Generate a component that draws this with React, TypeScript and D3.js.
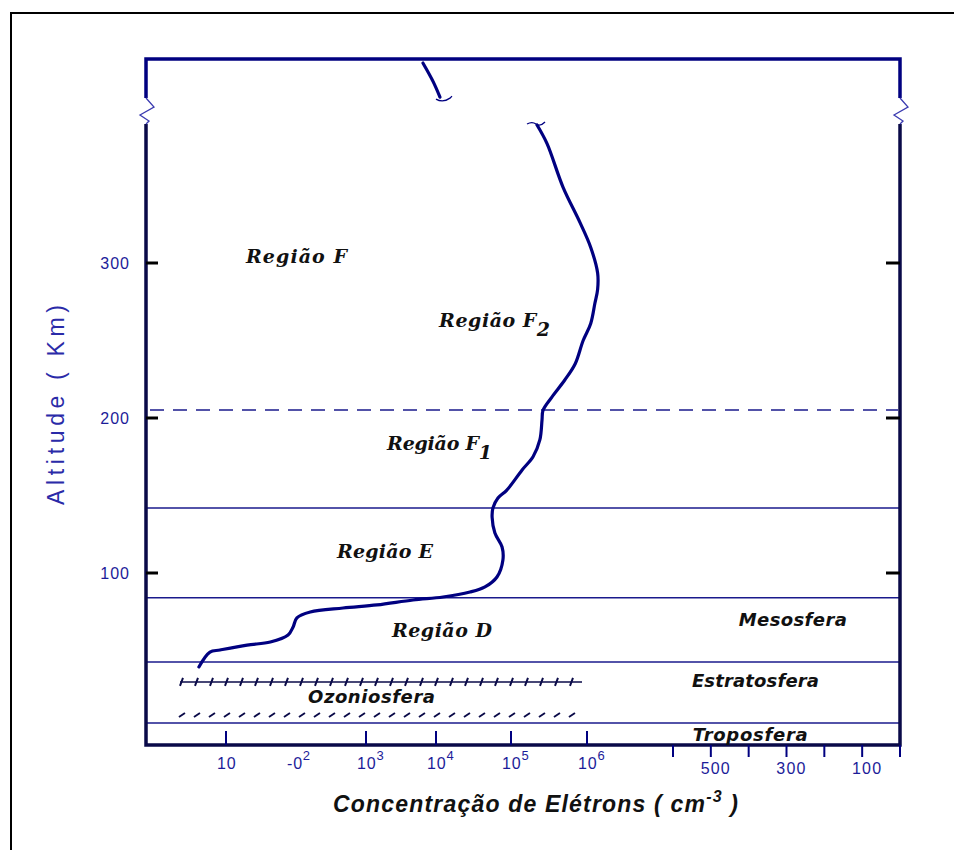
import React from "react"
import * as d3 from "d3"

// electron density profile: concentration (cm^-3) vs altitude (km)
const lowerConc = [4.1, 5.9, 8.2, 20, 43, 77, 91, 103, 160, 470, 1440, 4700, 1.24e4, 2.84e4, 4.5e4, 6.5e4, 7.8e4, 7.6e4, 6.1e4, 5.6e4, 5.75e4, 6.7e4, 8.8e4, 1.4e5, 1.95e5, 2.4e5, 2.56e5, 2.64e5, 3.45e5, 5.1e5, 7.0e5, 8.9e5, 1.12e6, 1.27e6, 1.38e6, 1.38e6, 1.12e6, 8.1e5, 4.83e5, 2.98e5, 2.2e5]
const lowerAlt = [39.4, 49, 50.3, 53.5, 55.5, 60, 65.2, 71, 74.8, 77.4, 79.4, 82.6, 84.5, 87.7, 91, 97.4, 108.4, 116.8, 125.8, 136, 142, 148.4, 153.5, 166.5, 175, 186, 198.7, 205, 213.5, 224.5, 235, 250, 261, 274, 283, 293.5, 310, 326, 349, 377, 389]
// piece above the axis break
const upperConc = [6.5e3, 9.1e3, 1.13e4]
const upperAlt = [429, 417, 407]

// layer boundaries (km)
const solidBounds = [142, 84, 42.6, 3.2]
const dashedBound = 205.2
const ozoneTop = 29.7
const ozoneBottom = 8.4
const ozoneRange = [2.2, 8.6e5]

// axes
const altTicks = [100, 200, 300]
const decadeTicks = [10, 1e3, 1e4, 1e5, 1e6]
const decadeLabelValues = [10, 100, 1e3, 1e4, 1e5, 1e6]
const decadeBases = ["10", "-0", "10", "10", "10", "10"]
const decadeExps = ["", "2", "3", "4", "5", "6"]
const tempTicks = [600, 500, 400, 300, 200, 100, 0]
const tempLabels = [500, 300, 100]

// annotations: [concentration, altitude]
const regionNames = ["Região F", "Região F", "Região F", "Região E", "Região D"]
const regionSubs = ["", "2", "1", "", ""]
const regionConc = [19.3, 1.1e4, 2000, 385, 2350]
const regionAlt = [300, 258.7, 179.4, 109.7, 58.7]
const regionWidths = [101, 111, 105, 96, 100]

// layer names on the right: [temperature-scale position, altitude]
const layerNames = ["Mesosfera", "Estratosfera", "Troposfera"]
const layerTemp = [426, 550, 548]
const layerAlt = [65.8, 26.5, -8.4]
const layerWidths = [108, 127, 115]

const NAVY = "#000080"
const DARK = "#0a0a48"
const LABEL_BLUE = "#1c1c99"

export default function App() {
  const left = 146, right = 900, top = 59, bottom = 745
  const breakTop = 98, breakBottom = 124

  const x = d3.scaleLog().domain([10, 1e3, 1e4, 1e5, 1e6]).range([226, 366, 436, 511, 587])
  const y = d3.scaleLinear().domain([0, 300]).range([728, 263])
  const xT = d3.scaleLinear().domain([0, 600]).range([900, 673])

  const line = d3.line<number>()
    .x(i => x(lowerConc[i]))
    .y(i => y(lowerAlt[i]))
    .curve(d3.curveCatmullRom.alpha(0.5))
  const lineUp = d3.line<number>()
    .x(i => x(upperConc[i]))
    .y(i => y(upperAlt[i]))
    .curve(d3.curveCatmullRom.alpha(0.5))

  const zig = (cx: number) =>
    `M${cx},${breakTop} L${cx + 8},${breakTop + 9} L${cx - 6},${breakTop + 17} L${cx + 3},${breakTop + 23} L${cx},${breakBottom}`

  const hx0 = x(ozoneRange[0]), hx1 = x(ozoneRange[1])
  const hatch = d3.range(hx0 + 2, hx1, 15)
  const yOzTop = y(ozoneTop), yOzBot = y(ozoneBottom)

  const upEnd = [x(upperConc[2]), y(upperAlt[2])]
  const lowTop = [x(lowerConc[lowerConc.length - 1]), y(lowerAlt[lowerAlt.length - 1])]

  const serif = "'DejaVu Serif', serif"
  const sans = "'Liberation Sans', Arial, sans-serif"
  const wide = "'DejaVu Sans', sans-serif"

  return (
    <svg width={954} height={850} style={{ position: "absolute", left: 0, top: 0, background: "#fff" }}>
      {/* outer frame */}
      <path d="M11,850 V13 H954" fill="none" stroke="#000" strokeWidth={2} />

      {/* layer boundaries */}
      {solidBounds.map((b, i) => (
        <line key={i} x1={left} x2={right} y1={y(b)} y2={y(b)} stroke="#1a1a8c" strokeWidth={1.5} />
      ))}
      <line x1={left + 4} x2={right - 2} y1={y(dashedBound)} y2={y(dashedBound)} stroke="#1a1a8c" strokeWidth={1.5} strokeDasharray="14 9" />

      {/* ozone layer hatching */}
      <line x1={hx0} x2={hx1} y1={yOzTop} y2={yOzTop} stroke={DARK} strokeWidth={1.5} />
      {hatch.map((h, i) => (
        <line key={"a" + i} x1={h - 2} y1={yOzTop + 4} x2={h + 1} y2={yOzTop - 4} stroke={DARK} strokeWidth={2} />
      ))}
      {hatch.map((h, i) => (
        <line key={"b" + i} x1={h - 3} y1={yOzBot + 2} x2={h + 3} y2={yOzBot - 2} stroke={DARK} strokeWidth={2} />
      ))}

      {/* plot frame with axis breaks */}
      <path d={`M${left},${breakTop} V${top} H${right} V${breakTop}`} fill="none" stroke={NAVY} strokeWidth={3.5} />
      <path d={`M${left},${breakBottom} V${bottom} H${right} V${breakBottom}`} fill="none" stroke={DARK} strokeWidth={3.5} />
      <path d={zig(left)} fill="none" stroke="#3a3ab0" strokeWidth={1.3} />
      <path d={zig(right)} fill="none" stroke="#3a3ab0" strokeWidth={1.3} />

      {/* altitude ticks */}
      {altTicks.map(t => (
        <g key={t}>
          <line x1={left} x2={left + 12} y1={y(t)} y2={y(t)} stroke="#000" strokeWidth={3} />
          <line x1={right - 14} x2={right} y1={y(t)} y2={y(t)} stroke="#000" strokeWidth={3} />
          <text x={130} y={y(t) + 6} textAnchor="end" fontFamily={sans} fontSize={16} letterSpacing={1} fill={LABEL_BLUE}>{t}</text>
        </g>
      ))}

      {/* concentration ticks */}
      {decadeTicks.map(t => (
        <line key={t} x1={x(t)} x2={x(t)} y1={bottom} y2={bottom - 14} stroke={NAVY} strokeWidth={2} />
      ))}
      {decadeLabelValues.map((v, i) => (
        <text key={v} x={x(v) - 9} y={769} fontFamily={sans} fontSize={16} letterSpacing={0.8} fill={LABEL_BLUE}>
          {decadeBases[i]}
          {decadeExps[i] && <tspan dy={-9} fontSize={13}>{decadeExps[i]}</tspan>}
        </text>
      ))}

      {/* temperature-like scale on the right */}
      {tempTicks.map(t => (
        <line key={t} x1={xT(t)} x2={xT(t)} y1={bottom} y2={bottom + 12} stroke={NAVY} strokeWidth={2} />
      ))}
      {tempLabels.map(t => (
        <text key={t} x={xT(t) + 5} y={774} textAnchor="middle" fontFamily={sans} fontSize={16} letterSpacing={1.2} fill={LABEL_BLUE}>{t}</text>
      ))}

      {/* electron density curve */}
      <path d={line(d3.range(lowerConc.length)) ?? ""} fill="none" stroke={NAVY} strokeWidth={3.2} strokeLinejoin="round" strokeLinecap="round" />
      <path d={lineUp(d3.range(upperConc.length)) ?? ""} fill="none" stroke={NAVY} strokeWidth={3.2} strokeLinecap="round" />
      <path d={`M${upEnd[0] - 4},${upEnd[1] + 1} q7,4 14,-1 l2,-2`} transform="translate(0,1)" fill="none" stroke={NAVY} strokeWidth={1.3} />
      <path d={`M${lowTop[0] - 10},${lowTop[1] - 1} q5,-3 9,0 t9,-2`} fill="none" stroke={NAVY} strokeWidth={1.3} />

      {/* region labels */}
      {regionNames.map((n, i) => (
        <text key={i} x={x(regionConc[i])} y={y(regionAlt[i])} fontFamily={serif} fontWeight="bold" fontStyle="italic"
          fontSize={19} fill="#111" textLength={regionWidths[i]} lengthAdjust="spacing">
          {n}
          {regionSubs[i] && <tspan dy={9}>{regionSubs[i]}</tspan>}
        </text>
      ))}

      {/* atmosphere layers */}
      {layerNames.map((n, i) => (
        <text key={n} x={xT(layerTemp[i])} y={y(layerAlt[i])} fontFamily={wide} fontWeight="bold" fontStyle="italic"
          fontSize={18} fill="#111" textLength={layerWidths[i]} lengthAdjust="spacing">{n}</text>
      ))}
      <text x={308} y={703} fontFamily={wide} fontWeight="bold" fontStyle="italic" fontSize={18} fill="#111"
        textLength={127} lengthAdjust="spacing">Ozoniosfera</text>

      {/* axis titles */}
      <text transform="translate(64,405) rotate(-90)" textAnchor="middle" fontFamily={sans} fontSize={23}
        fill="#2a2aa8" textLength={200} lengthAdjust="spacing">Altitude ( Km)</text>
      <text x={333} y={812} fontFamily={sans} fontWeight="bold" fontStyle="italic" fontSize={23} fill="#111"
        textLength={405} lengthAdjust="spacing">
        Concentração de Elétrons ( cm<tspan dy={-10} fontSize={16}>-3</tspan><tspan dy={10}> )</tspan>
      </text>
    </svg>
  )
}
